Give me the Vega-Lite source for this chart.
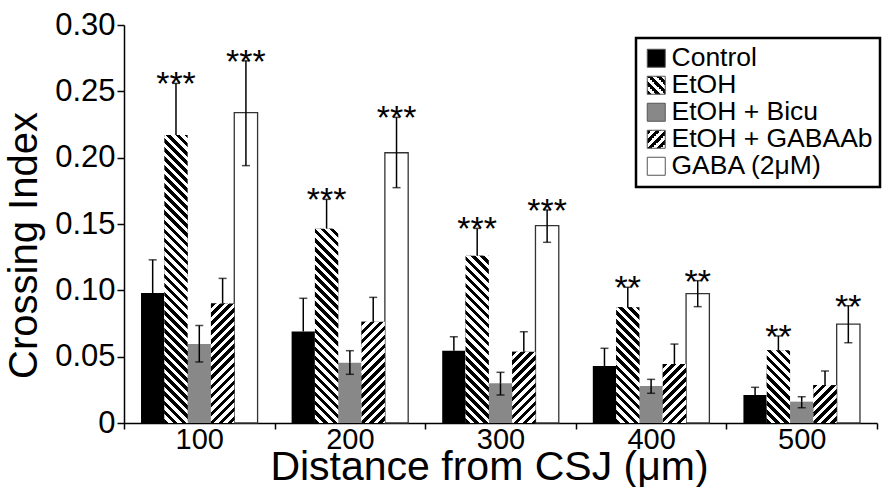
{
  "$schema": "https://vega.github.io/schema/vega-lite/v6.json",
  "width": 753,
  "height": 398,
  "autosize": "none",
  "padding": {"left": 124, "top": 25, "right": 6, "bottom": 64},
  "background": "white",
  "config": {
    "font": "Liberation Sans",
    "view": {"stroke": null}
  },
  "params": [
    {
      "name": "lstripes",
      "value": [
        {"offset":0,"color":"#000"},{"offset":0.125,"color":"#000"},
        {"offset":0.125,"color":"#fff"},{"offset":0.25,"color":"#fff"},
        {"offset":0.25,"color":"#000"},{"offset":0.375,"color":"#000"},
        {"offset":0.375,"color":"#fff"},{"offset":0.5,"color":"#fff"},
        {"offset":0.5,"color":"#000"},{"offset":0.625,"color":"#000"},
        {"offset":0.625,"color":"#fff"},{"offset":0.75,"color":"#fff"},
        {"offset":0.75,"color":"#000"},{"offset":0.875,"color":"#000"},
        {"offset":0.875,"color":"#fff"},{"offset":1,"color":"#fff"}
      ]
    },
    {
      "name": "stripes",
      "value": [
        {"offset":0,"color":"#000"},{"offset":0.01,"color":"#000"},
        {"offset":0.01,"color":"#fff"},{"offset":0.02,"color":"#fff"},
        {"offset":0.02,"color":"#000"},{"offset":0.03,"color":"#000"},
        {"offset":0.03,"color":"#fff"},{"offset":0.04,"color":"#fff"},
        {"offset":0.04,"color":"#000"},{"offset":0.05,"color":"#000"},
        {"offset":0.05,"color":"#fff"},{"offset":0.06,"color":"#fff"},
        {"offset":0.06,"color":"#000"},{"offset":0.07,"color":"#000"},
        {"offset":0.07,"color":"#fff"},{"offset":0.08,"color":"#fff"},
        {"offset":0.08,"color":"#000"},{"offset":0.09,"color":"#000"},
        {"offset":0.09,"color":"#fff"},{"offset":0.1,"color":"#fff"},
        {"offset":0.1,"color":"#000"},{"offset":0.11,"color":"#000"},
        {"offset":0.11,"color":"#fff"},{"offset":0.12,"color":"#fff"},
        {"offset":0.12,"color":"#000"},{"offset":0.13,"color":"#000"},
        {"offset":0.13,"color":"#fff"},{"offset":0.14,"color":"#fff"},
        {"offset":0.14,"color":"#000"},{"offset":0.15,"color":"#000"},
        {"offset":0.15,"color":"#fff"},{"offset":0.16,"color":"#fff"},
        {"offset":0.16,"color":"#000"},{"offset":0.17,"color":"#000"},
        {"offset":0.17,"color":"#fff"},{"offset":0.18,"color":"#fff"},
        {"offset":0.18,"color":"#000"},{"offset":0.19,"color":"#000"},
        {"offset":0.19,"color":"#fff"},{"offset":0.2,"color":"#fff"},
        {"offset":0.2,"color":"#000"},{"offset":0.21,"color":"#000"},
        {"offset":0.21,"color":"#fff"},{"offset":0.22,"color":"#fff"},
        {"offset":0.22,"color":"#000"},{"offset":0.23,"color":"#000"},
        {"offset":0.23,"color":"#fff"},{"offset":0.24,"color":"#fff"},
        {"offset":0.24,"color":"#000"},{"offset":0.25,"color":"#000"},
        {"offset":0.25,"color":"#fff"},{"offset":0.26,"color":"#fff"},
        {"offset":0.26,"color":"#000"},{"offset":0.27,"color":"#000"},
        {"offset":0.27,"color":"#fff"},{"offset":0.28,"color":"#fff"},
        {"offset":0.28,"color":"#000"},{"offset":0.29,"color":"#000"},
        {"offset":0.29,"color":"#fff"},{"offset":0.3,"color":"#fff"},
        {"offset":0.3,"color":"#000"},{"offset":0.31,"color":"#000"},
        {"offset":0.31,"color":"#fff"},{"offset":0.32,"color":"#fff"},
        {"offset":0.32,"color":"#000"},{"offset":0.33,"color":"#000"},
        {"offset":0.33,"color":"#fff"},{"offset":0.34,"color":"#fff"},
        {"offset":0.34,"color":"#000"},{"offset":0.35,"color":"#000"},
        {"offset":0.35,"color":"#fff"},{"offset":0.36,"color":"#fff"},
        {"offset":0.36,"color":"#000"},{"offset":0.37,"color":"#000"},
        {"offset":0.37,"color":"#fff"},{"offset":0.38,"color":"#fff"},
        {"offset":0.38,"color":"#000"},{"offset":0.39,"color":"#000"},
        {"offset":0.39,"color":"#fff"},{"offset":0.4,"color":"#fff"},
        {"offset":0.4,"color":"#000"},{"offset":0.41,"color":"#000"},
        {"offset":0.41,"color":"#fff"},{"offset":0.42,"color":"#fff"},
        {"offset":0.42,"color":"#000"},{"offset":0.43,"color":"#000"},
        {"offset":0.43,"color":"#fff"},{"offset":0.44,"color":"#fff"},
        {"offset":0.44,"color":"#000"},{"offset":0.45,"color":"#000"},
        {"offset":0.45,"color":"#fff"},{"offset":0.46,"color":"#fff"},
        {"offset":0.46,"color":"#000"},{"offset":0.47,"color":"#000"},
        {"offset":0.47,"color":"#fff"},{"offset":0.48,"color":"#fff"},
        {"offset":0.48,"color":"#000"},{"offset":0.49,"color":"#000"},
        {"offset":0.49,"color":"#fff"},{"offset":0.5,"color":"#fff"},
        {"offset":0.5,"color":"#000"},{"offset":0.51,"color":"#000"},
        {"offset":0.51,"color":"#fff"},{"offset":0.52,"color":"#fff"},
        {"offset":0.52,"color":"#000"},{"offset":0.53,"color":"#000"},
        {"offset":0.53,"color":"#fff"},{"offset":0.54,"color":"#fff"},
        {"offset":0.54,"color":"#000"},{"offset":0.55,"color":"#000"},
        {"offset":0.55,"color":"#fff"},{"offset":0.56,"color":"#fff"},
        {"offset":0.56,"color":"#000"},{"offset":0.57,"color":"#000"},
        {"offset":0.57,"color":"#fff"},{"offset":0.58,"color":"#fff"},
        {"offset":0.58,"color":"#000"},{"offset":0.59,"color":"#000"},
        {"offset":0.59,"color":"#fff"},{"offset":0.6,"color":"#fff"},
        {"offset":0.6,"color":"#000"},{"offset":0.61,"color":"#000"},
        {"offset":0.61,"color":"#fff"},{"offset":0.62,"color":"#fff"},
        {"offset":0.62,"color":"#000"},{"offset":0.63,"color":"#000"},
        {"offset":0.63,"color":"#fff"},{"offset":0.64,"color":"#fff"},
        {"offset":0.64,"color":"#000"},{"offset":0.65,"color":"#000"},
        {"offset":0.65,"color":"#fff"},{"offset":0.66,"color":"#fff"},
        {"offset":0.66,"color":"#000"},{"offset":0.67,"color":"#000"},
        {"offset":0.67,"color":"#fff"},{"offset":0.68,"color":"#fff"},
        {"offset":0.68,"color":"#000"},{"offset":0.69,"color":"#000"},
        {"offset":0.69,"color":"#fff"},{"offset":0.7,"color":"#fff"}
      ]
    }
  ],
  "data": {
    "values": [
      {"d":"100","group":"Control","value":0.098,"lo":0.073,"hi":0.123,"sig":""},
      {"d":"100","group":"EtOH","value":0.217,"lo":0.178,"hi":0.256,"sig":"***"},
      {"d":"100","group":"EtOH + Bicu","value":0.0595,"lo":0.046,"hi":0.0735,"sig":""},
      {"d":"100","group":"EtOH + GABAAb","value":0.090,"lo":0.071,"hi":0.109,"sig":""},
      {"d":"100","group":"GABA (2μM)","value":0.234,"lo":0.194,"hi":0.273,"sig":"***"},
      {"d":"200","group":"Control","value":0.069,"lo":0.044,"hi":0.094,"sig":""},
      {"d":"200","group":"EtOH","value":0.1465,"lo":0.1244,"hi":0.1686,"sig":"***"},
      {"d":"200","group":"EtOH + Bicu","value":0.0455,"lo":0.0367,"hi":0.0545,"sig":""},
      {"d":"200","group":"EtOH + GABAAb","value":0.0764,"lo":0.058,"hi":0.0947,"sig":""},
      {"d":"200","group":"GABA (2μM)","value":0.2037,"lo":0.1774,"hi":0.2304,"sig":"***"},
      {"d":"300","group":"Control","value":0.0545,"lo":0.044,"hi":0.065,"sig":""},
      {"d":"300","group":"EtOH","value":0.1261,"lo":0.1055,"hi":0.1467,"sig":"***"},
      {"d":"300","group":"EtOH + Bicu","value":0.0299,"lo":0.0211,"hi":0.0382,"sig":""},
      {"d":"300","group":"EtOH + GABAAb","value":0.0538,"lo":0.0388,"hi":0.0688,"sig":""},
      {"d":"300","group":"GABA (2μM)","value":0.1487,"lo":0.1362,"hi":0.1606,"sig":"***"},
      {"d":"400","group":"Control","value":0.043,"lo":0.0297,"hi":0.0563,"sig":""},
      {"d":"400","group":"EtOH","value":0.0872,"lo":0.0721,"hi":0.1023,"sig":"**"},
      {"d":"400","group":"EtOH + Bicu","value":0.0279,"lo":0.0224,"hi":0.0329,"sig":""},
      {"d":"400","group":"EtOH + GABAAb","value":0.0445,"lo":0.0295,"hi":0.0595,"sig":""},
      {"d":"400","group":"GABA (2μM)","value":0.0975,"lo":0.0877,"hi":0.1073,"sig":"**"},
      {"d":"500","group":"Control","value":0.0211,"lo":0.0153,"hi":0.0269,"sig":""},
      {"d":"500","group":"EtOH","value":0.0548,"lo":0.044,"hi":0.0656,"sig":"**"},
      {"d":"500","group":"EtOH + Bicu","value":0.0161,"lo":0.0115,"hi":0.0198,"sig":""},
      {"d":"500","group":"EtOH + GABAAb","value":0.0286,"lo":0.018,"hi":0.0392,"sig":""},
      {"d":"500","group":"GABA (2μM)","value":0.0746,"lo":0.0605,"hi":0.0884,"sig":"**"}
    ]
  },
  "encoding": {
    "x": {
      "field": "d",
      "type": "nominal",
      "scale": {"paddingInner": 0, "paddingOuter": 0},
      "axis": {
        "title": "Distance from CSJ (μm)",
        "labelAngle": 0,
        "labelFontSize": 29,
        "labelColor": "black",
        "labelPadding": -4,
        "tickBand": "extent",
        "tickSize": 6,
        "tickWidth": 1.5,
        "tickColor": "black",
        "domainColor": "black",
        "domainWidth": 1.5,
        "titleFontSize": 41,
        "titleFontWeight": "normal",
        "titleColor": "black",
        "titlePadding": -7,
        "titleX": 365
      }
    },
    "xOffset": {
      "field": "group",
      "type": "nominal",
      "scale": {
        "domain": ["Control", "EtOH", "EtOH + Bicu", "EtOH + GABAAb", "GABA (2μM)"],
        "paddingInner": 0,
        "paddingOuter": 0.73
      }
    }
  },
  "layer": [
    {
      "mark": {"type": "bar", "strokeWidth": 1.3},
      "encoding": {
        "y": {
          "field": "value",
          "type": "quantitative",
          "stack": null,
          "scale": {"domain": [0, 0.3], "nice": false},
          "axis": {
            "title": "Crossing Index",
            "values": [0, 0.05, 0.1, 0.15, 0.2, 0.25, 0.3],
            "labelExpr": "datum.value === 0 ? '0' : format(datum.value, '.2f')",
            "grid": false,
            "labelFontSize": 31,
            "labelColor": "black",
            "labelPadding": 2,
            "tickSize": 7,
            "tickWidth": 1.5,
            "tickColor": "black",
            "domainColor": "black",
            "domainWidth": 1.5,
            "titleFontSize": 40,
            "titleFontWeight": "normal",
            "titleColor": "black",
            "titlePadding": 10,
            "titleY": 220
          }
        },
        "fill": {
          "field": "group",
          "type": "nominal",
          "scale": {
            "domain": ["Control", "EtOH", "EtOH + Bicu", "EtOH + GABAAb", "GABA (2μM)"],
            "range": [
              "#000000",
              {"expr": "{gradient: 'linear', x1: 0, y1: 1, x2: 1, y2: 0, stops: lstripes}"},
              "#888888",
              {"expr": "{gradient: 'linear', x1: 0, y1: 0, x2: 1, y2: 1, stops: lstripes}"},
              "#ffffff"
            ]
          },
          "legend": {
            "title": null,
            "orient": "none",
            "legendX": 512,
            "legendY": 13,
            "symbolType": "square",
            "symbolSize": 324,
            "symbolStrokeColor": "#555",
            "symbolStrokeWidth": 1,
            "labelFontSize": 26.5,
            "labelLimit": 400,
            "labelColor": "black",
            "labelOffset": 2,
            "rowPadding": -3,
            "padding": 7,
            "strokeColor": "black",
            "fillColor": "white",
            "encode": {"legend": {"update": {"strokeWidth": {"value": 2.5}}}}
          }
        },
        "stroke": {
          "condition": {"test": "datum.group === 'GABA (2μM)'", "value": "#333"},
          "value": "transparent"
        }
      }
    },
    {
      "transform": [{"filter": "datum.group === 'EtOH' || datum.group === 'EtOH + GABAAb'"}],
      "mark": {"type": "bar"},
      "encoding": {
        "y": {"field": "value", "type": "quantitative", "stack": null, "title": "Crossing Index"},
        "fill": {
          "value": {
            "expr": "datum.group === 'EtOH' ? {gradient: 'linear', x1: 0, y1: 1, x2: 452.55*23.31/(543.36 + pow(datum.value*1326.667, 2)), y2: 1 - 452.55*datum.value*1326.667/(543.36 + pow(datum.value*1326.667, 2)), stops: stripes} : {gradient: 'linear', x1: 0, y1: 0, x2: 452.55*23.31/(543.36 + pow(datum.value*1326.667, 2)), y2: 452.55*datum.value*1326.667/(543.36 + pow(datum.value*1326.667, 2)), stops: stripes}"
          }
        }
      }
    },
    {
      "mark": {"type": "rule", "color": "black", "strokeWidth": 1.5},
      "encoding": {
        "y": {"field": "value", "type": "quantitative", "title": "Crossing Index"},
        "y2": {"field": "hi"}
      }
    },
    {
      "mark": {"type": "tick", "color": "black", "size": 8, "thickness": 1.5},
      "encoding": {
        "y": {"field": "hi", "type": "quantitative", "title": "Crossing Index"}
      }
    },
    {
      "transform": [{"filter": "datum.group === 'EtOH + Bicu' || datum.group === 'GABA (2μM)'"}],
      "mark": {"type": "rule", "color": "black", "strokeWidth": 1.5},
      "encoding": {
        "y": {"field": "lo", "type": "quantitative", "title": "Crossing Index"},
        "y2": {"field": "value"}
      }
    },
    {
      "transform": [{"filter": "datum.group === 'EtOH + Bicu' || datum.group === 'GABA (2μM)'"}],
      "mark": {"type": "tick", "color": "black", "size": 8, "thickness": 1.5},
      "encoding": {
        "y": {"field": "lo", "type": "quantitative", "title": "Crossing Index"}
      }
    },
    {
      "mark": {"type": "text", "fontSize": 34, "baseline": "alphabetic", "align": "center", "dy": 12, "color": "black"},
      "encoding": {
        "y": {"field": "hi", "type": "quantitative", "title": "Crossing Index"},
        "text": {"field": "sig"}
      }
    }
  ]
}
